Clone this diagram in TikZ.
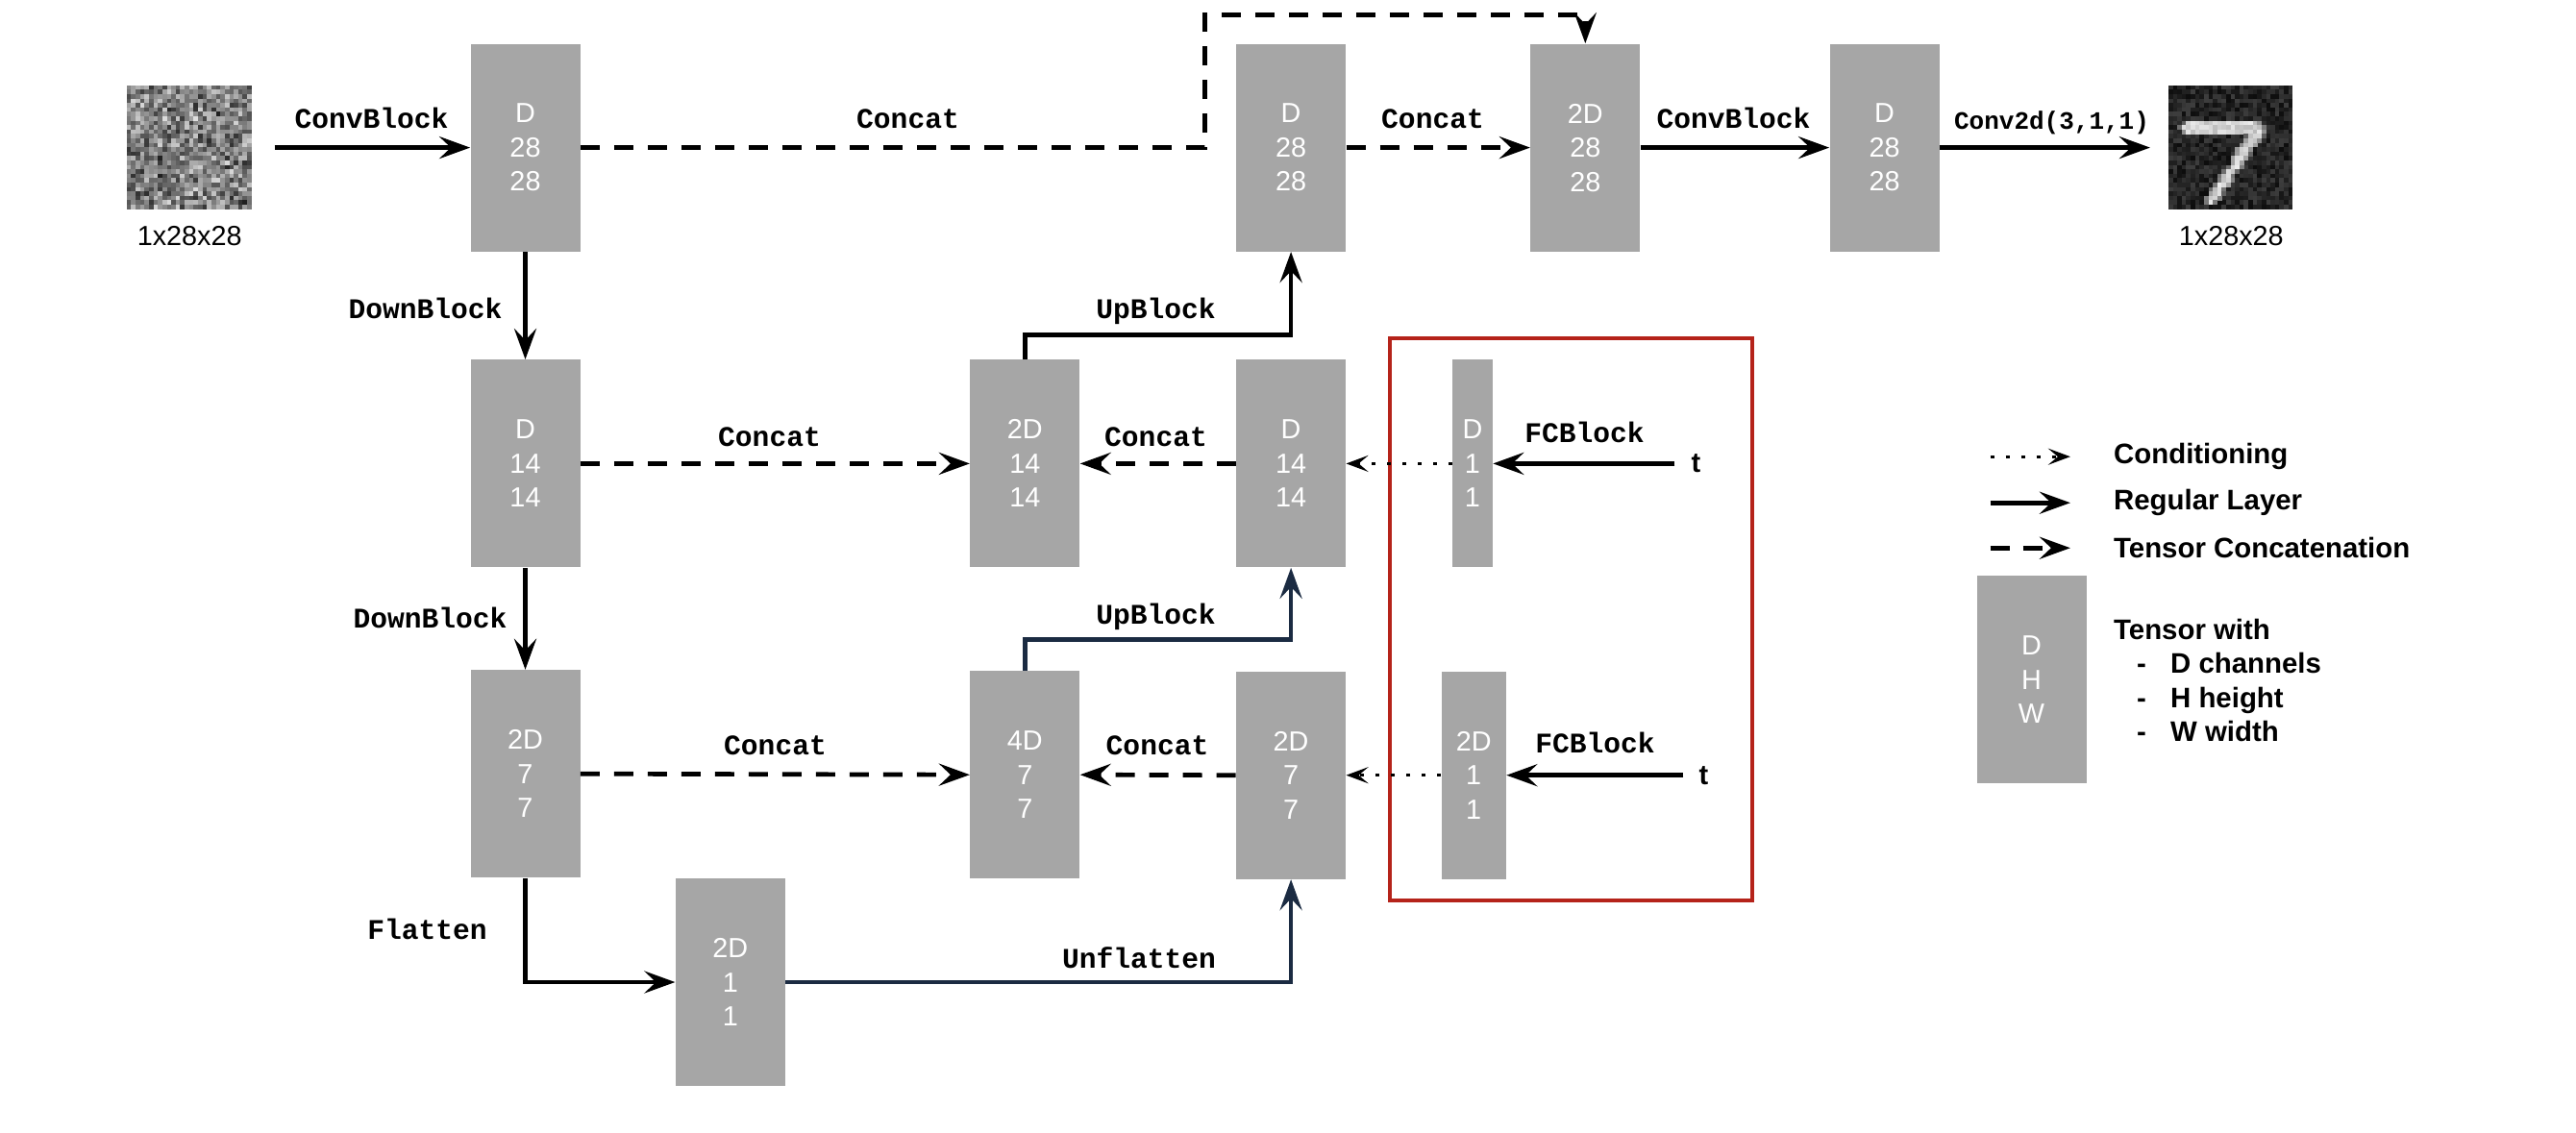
\documentclass[tikz,border=0pt]{standalone}
\usepackage{fontspec}
\setmainfont{Liberation Sans}
\setmonofont{Liberation Mono}
\usetikzlibrary{positioning,arrows.meta}
\definecolor{tensorgray}{HTML}{A6A6A6}
\definecolor{upnavy}{HTML}{1B2B42}
\definecolor{boxred}{HTML}{B5231A}

\begin{document}
\begin{tikzpicture}[x=1pt, y=1pt,
tensor/.style={rectangle, fill=tensorgray, text=white, align=center, inner sep=0pt, minimum width=#1, minimum height=108pt, font=\fontsize{14.4}{17.75}\selectfont},
tensor/.default=57pt,
picture/.style={rectangle, inner sep=0pt, minimum width=65pt, minimum height=64.5pt},
caption/.style={inner sep=0pt, font=\fontsize{14.4}{17}\selectfont},
blocklabel/.style={inner sep=0pt, text height=10pt, text depth=0pt, font=\ttfamily\bfseries\fontsize{14.8}{17}\selectfont},
legendlabel/.style={inner sep=0pt, anchor=west, align=left, font=\bfseries\fontsize{14.7}{17.75}\selectfont},
layer/.style={line width=2.35pt, -{Stealth[length=16pt, width=11.5pt, inset=6pt]}},
concat/.style={layer, dash pattern=on 10pt off 7.5pt},
conditioning/.style={line width=1.5pt, dash pattern=on 2pt off 6pt, -{Stealth[length=11.5pt, width=8.5pt, inset=5pt]}}]

\useasboundingbox (0.5,-0.7) rectangle ++(1340,-589);

% TENSORS, DOWN PATH

\node [tensor] (downone) at (273.75,-77.5) {D\\28\\28};
\node [tensor, below=56pt of downone] (downtwo) {D\\14\\14};
\node [tensor, below=53pt of downtwo] (downthree) {2D\\7\\7};
\node [tensor, below right=0pt and 49.25pt of downthree.south east, anchor=north west] (flat) {2D\\1\\1};

% TENSORS, UP PATH

\node [tensor, right=202.5pt of downthree, yshift=-0.5pt] (catthree) {4D\\7\\7};
\node [tensor, right=81pt of catthree, yshift=-0.25pt] (upthree) {2D\\7\\7};
\node [tensor, right=202.5pt of downtwo] (cattwo) {2D\\14\\14};
\node [tensor, right=81pt of cattwo] (uptwo) {D\\14\\14};
\node [tensor, above=56pt of uptwo] (upone) {D\\28\\28};
\node [tensor, right=95.7pt of upone] (catone) {2D\\28\\28};
\node [tensor, right=98.2pt of catone] (lastone) {D\\28\\28};

% TIME EMBEDDING

\node [tensor=21pt, right=55pt of uptwo] (embedone) {D\\1\\1};
\node [tensor=33.7pt, right=49.3pt of upthree] (embedtwo) {2D\\1\\1};
\node [caption, font=\bfseries\fontsize{14.5}{17}\selectfont, right=103pt of embedone] (timeone) {t};
\node [caption, font=\bfseries\fontsize{14.5}{17}\selectfont, right=100pt of embedtwo] (timetwo) {t};
\node [rectangle, draw=boxred, line width=2pt, inner sep=0pt, minimum width=188.25pt, minimum height=292.25pt, anchor=north west] (timebox) at (722.5,-175.75) {};

% PICTURES

\node [picture, left=113.25pt of downone] (noisy) {};
\node [picture, right=119pt of lastone] (clean) {};
\node [caption, below=8pt of noisy] (noisytitle) {1x28x28};
\node [caption, below=8pt of clean] (cleantitle) {1x28x28};

\pgfmathsetseed{2024}
\begin{scope}[shift={(noisy.north west)}]
\foreach \row in {0,...,27} {
  \foreach \col in {0,...,27} {
    \pgfmathsetmacro\cellgray{int(10+40*(rnd+rnd))}
    \fill [black!\cellgray] (\col*2.32,-\row*2.3) rectangle ++(2.42,-2.4);
  }
}
\end{scope}

\begin{scope}[shift={(clean.north west)}]
\foreach \row in {0,...,27} {
  \foreach \col in {0,...,27} {
    \pgfmathsetmacro\cellgray{int(76+20*rnd)}
    \fill [black!\cellgray] (\col*2.31,-\row*2.3) rectangle ++(2.41,-2.4);
  }
}
\foreach \row/\first/\last in {8/3/20, 9/2/21, 10/3/21, 11/17/21, 12/17/20, 13/16/19, 14/15/18, 15/15/18, 16/14/17, 17/14/16, 18/13/16, 19/12/15, 20/11/14, 21/11/14, 22/10/13, 23/9/12, 24/9/12, 25/8/11, 26/8/10} {
  \foreach \col in {\first,...,\last} {
    \pgfmathsetmacro\cellgray{int(ifthenelse(\col==\first || \col==\last, 35+30*rnd, 8+20*rnd))}
    \fill [black!\cellgray] (\col*2.31,-\row*2.3) rectangle ++(2.41,-2.4);
  }
}
\end{scope}

% LEGEND

\node [legendlabel] (legcond) at (1099.85,-238.3) {Conditioning};
\node [legendlabel] (legregular) at (1099.85,-262.3) {Regular Layer};
\node [legendlabel] (legconcat) at (1099.85,-285.8) {Tensor Concatenation};
\node [tensor] (legtensor) at (1057.25,-354.25) {D\\H\\W};
\node [legendlabel] (legtext) at (1099.85,-354.75) {Tensor with\\
\hspace*{12pt}\makebox[17.5pt][l]{-}D channels\\
\hspace*{12pt}\makebox[17.5pt][l]{-}H height\\
\hspace*{12pt}\makebox[17.5pt][l]{-}W width};

\coordinate [left=64pt of legcond.west] (legcondfrom);
\coordinate [left=22.4pt of legcond.west] (legcondto);
\coordinate [left=64pt of legregular.west] (legregularfrom);
\coordinate [left=22.4pt of legregular.west] (legregularto);
\coordinate [left=64pt of legconcat.west] (legconcatfrom);
\coordinate [left=22.4pt of legconcat.west] (legconcatto);

\draw [conditioning] (legcondfrom) -- (legcondto);
\draw [layer] (legregularfrom) -- (legregularto);
\draw [layer, dash pattern=on 10pt off 7pt] (legconcatfrom) -- (legconcatto);

% LABELS

\begin{scope}[yshift=-1.1pt]
\node [blocklabel] (convlabel) at (193.75,-61.5) {ConvBlock};
\node [blocklabel] (skiplabel) at (472.75,-61.5) {Concat};
\node [blocklabel] (catonelabel) at (745.75,-61.5) {Concat};
\node [blocklabel] (lastlabel) at (902.25,-61.5) {ConvBlock};
\node [blocklabel, font=\ttfamily\bfseries\fontsize{13}{15}\selectfont] (outlabel) at (1067.75,-62) {Conv2d(3,1,1)};
\node [blocklabel] (downonelabel) at (221.75,-160.5) {DownBlock};
\node [blocklabel] (downtwolabel) at (224.25,-321.5) {DownBlock};
\node [blocklabel] (uponelabel) at (601.75,-160.5) {UpBlock};
\node [blocklabel] (uptwolabel) at (601.75,-319.5) {UpBlock};
\node [blocklabel] (skiptwolabel) at (400.75,-227) {Concat};
\node [blocklabel] (cattwolabel) at (601.75,-227) {Concat};
\node [blocklabel] (skipthreelabel) at (403.75,-387.5) {Concat};
\node [blocklabel] (catthreelabel) at (602.5,-387.5) {Concat};
\node [blocklabel] (flattenlabel) at (222.75,-483.5) {Flatten};
\node [blocklabel] (unflattenlabel) at (593,-498.5) {Unflatten};
\node [blocklabel] (fconelabel) at (824.75,-225) {FCBlock};
\node [blocklabel] (fctwolabel) at (830.25,-386.5) {FCBlock};
\end{scope}

% CONNECTIONS

\draw [layer, shorten <=11.5pt] (noisy.east) -- (downone.west);
\draw [layer] (downone.south) -- (downtwo.north);
\draw [layer] (downtwo.south) -- (downthree.north);
\draw [layer] (downthree.south) |- (flat.west);

\draw [concat] (downone.east) -- ++(324.75,0) -- ++(0,69) -| (catone.north);
\draw [concat] (upone.east) -- (catone.west);
\draw [layer] (catone.east) -- (lastone.west);
\draw [layer, shorten >=9.5pt] (lastone.east) -- (clean.west);

\draw [concat] (downtwo.east) -- (cattwo.west);
\draw [concat] (uptwo.west) -- (cattwo.east);
\draw [concat] (downthree.east) -- (catthree.west);
\draw [concat] (upthree.west) -- (catthree.east);

\draw [layer] (cattwo.north) -- ++(0,12.75) -| (upone.south);
\draw [layer, upnavy] (catthree.north) -- ++(0,16) -| (uptwo.south);
\draw [layer, upnavy] (flat.east) -| (upthree.south);

\draw [conditioning] (embedone.west) -- (uptwo.east);
\draw [conditioning] (embedtwo.west) -- (upthree.east);
\draw [layer, shorten <=8.5pt] (timeone.west) -- (embedone.east);
\draw [layer, shorten <=8pt] (timetwo.west) -- (embedtwo.east);

\end{tikzpicture}
\end{document}
